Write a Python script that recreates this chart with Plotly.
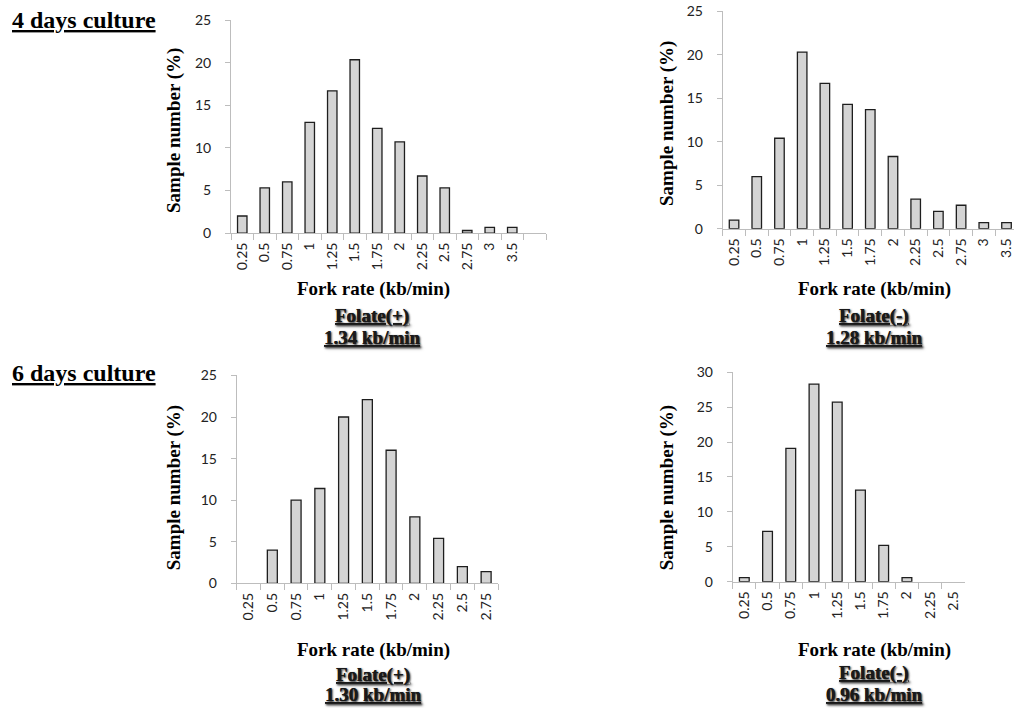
import plotly.graph_objects as go

W, H = 1014, 708

# ---------------- data ----------------
bins_4d = ["0.25", "0.5", "0.75", "1", "1.25", "1.5", "1.75", "2", "2.25", "2.5", "2.75", "3", "3.5"]
vals_4d_plus = [2.0, 5.3, 6.0, 13.0, 16.7, 20.35, 12.3, 10.7, 6.7, 5.3, 0.3, 0.67, 0.67]
vals_4d_minus = [1.0, 6.0, 10.4, 20.3, 16.7, 14.3, 13.7, 8.3, 3.4, 2.0, 2.7, 0.7, 0.7]

bins_6d_plus = ["0.25", "0.5", "0.75", "1", "1.25", "1.5", "1.75", "2", "2.25", "2.5", "2.75"]
vals_6d_plus = [0, 4.0, 10.0, 11.4, 20.0, 22.1, 16.0, 8.0, 5.4, 2.0, 1.4]

bins_6d_minus = ["0.25", "0.5", "0.75", "1", "1.25", "1.5", "1.75", "2", "2.25", "2.5"]
vals_6d_minus = [0.6, 7.2, 19.1, 28.3, 25.7, 13.1, 5.2, 0.6, 0, 0]

section_titles = ["4 days culture", "6 days culture"]
x_title = "Fork rate (kb/min)"
y_title = "Sample number (%)"
conditions = ["Folate(+)", "Folate(-)", "Folate(+)", "Folate(-)"]
mean_rates = ["1.34 kb/min", "1.28 kb/min", "1.30 kb/min", "0.96 kb/min"]

# empirical vertical correction of the capture
Y_OFF, Y_SCALE = 7.8, 0.978


def px(x):
    return x / W


def py(y):
    return 1 - ((y - Y_OFF) / Y_SCALE) / H


# panel geometry (pixels)
panels = [
    dict(x0=231, x1=546, yz=232.3, yt=19, ymax=25, cats=bins_4d + [" "], rend=13.5,
         bins=bins_4d, vals=vals_4d_plus),
    dict(x0=722.7, x1=1014, yz=228, yt=10, ymax=25, cats=bins_4d, rend=12.33,
         bins=bins_4d, vals=vals_4d_minus),
    dict(x0=236.7, x1=498, yz=583.3, yt=375, ymax=25, cats=bins_6d_plus, rend=10.5,
         bins=bins_6d_plus, vals=vals_6d_plus),
    dict(x0=732.7, x1=965, yz=581.7, yt=371.7, ymax=30, cats=bins_6d_minus, rend=9.5,
         bins=bins_6d_minus, vals=vals_6d_minus),
]

fig = go.Figure()
axis_grey = "#bdbdbd"
tick_font = dict(family="Lato, Open Sans, sans-serif", size=14, color="#222222")
serif = "Liberation Serif, Times New Roman, serif"

for i, p in enumerate(panels):
    n = i + 1
    xa = "x" if n == 1 else f"x{n}"
    ya = "y" if n == 1 else f"y{n}"
    fig.add_trace(go.Bar(
        x=p["bins"], y=[v if v > 0 else None for v in p["vals"]],
        xaxis=xa, yaxis=ya,
        marker=dict(color="#d4d4d4", line=dict(color="#1e1e1e", width=1.3)),
        showlegend=False, hoverinfo="x+y",
    ))
    xkey = "xaxis" if n == 1 else f"xaxis{n}"
    ykey = "yaxis" if n == 1 else f"yaxis{n}"
    fig.layout[xkey] = dict(
        domain=[px(p["x0"]), px(p["x1"])], anchor=ya,
        type="category", categoryorder="array", categoryarray=p["cats"],
        range=[-0.5, p["rend"]],
        showline=True, linecolor=axis_grey, linewidth=1,
        ticks="outside", ticklen=6, tickcolor=axis_grey, tickwidth=1,
        tickson="boundaries", tickangle=-90, tickfont=tick_font,
        ticklabelstandoff=3,
        showgrid=False, zeroline=False, fixedrange=True,
    )
    fig.layout[ykey] = dict(
        domain=[py(p["yz"]), py(p["yt"])], anchor=xa,
        range=[0, p["ymax"]], dtick=5, tick0=0,
        showline=True, linecolor=axis_grey, linewidth=1,
        ticks="outside", ticklen=5, tickcolor=axis_grey, tickwidth=1,
        tickfont=tick_font, ticklabelstandoff=11,
        showgrid=False, zeroline=False, fixedrange=True,
    )

annotations = []
for txt, yc in zip(section_titles, [19, 373]):
    annotations.append(dict(
        text=f"<u>{txt}</u>", x=px(10), y=py(yc), xref="paper", yref="paper",
        xanchor="left", yanchor="middle", showarrow=False,
        font=dict(family=serif, size=24, color="#000000", weight="bold"),
    ))

ytitle_pos = [(174, 130), (667, 123), (174, 488), (667, 488)]
xtitle_pos = [(373, 288), (874, 288), (373, 650), (874, 650)]
cond_pos = [(372, 315), (874, 315), (373, 675), (874, 673)]
rate_pos = [(372, 337), (874, 337), (373, 695), (874, 695)]

for i in range(4):
    annotations.append(dict(
        text=y_title, x=px(ytitle_pos[i][0]), y=py(ytitle_pos[i][1]),
        xref="paper", yref="paper", xanchor="center", yanchor="middle",
        textangle=-90, showarrow=False,
        font=dict(family=serif, size=19, color="#000000", weight="bold"),
    ))
    annotations.append(dict(
        text=x_title, x=px(xtitle_pos[i][0]), y=py(xtitle_pos[i][1]),
        xref="paper", yref="paper", xanchor="center", yanchor="middle",
        showarrow=False,
        font=dict(family=serif, size=19, color="#000000", weight="bold"),
    ))
    for txt, pos in [(conditions[i], cond_pos[i]), (mean_rates[i], rate_pos[i])]:
        annotations.append(dict(
            text=f"<u>{txt}</u>", x=px(pos[0]), y=py(pos[1]),
            xref="paper", yref="paper", xanchor="center", yanchor="middle",
            showarrow=False,
            font=dict(family=serif, size=19, color="#1a1a1a", weight="bold",
                      shadow="1px 1px 2px rgba(0,0,0,0.55)"),
        ))

fig.update_layout(
    width=W, height=H, margin=dict(l=0, r=0, t=0, b=0),
    paper_bgcolor="white", plot_bgcolor="white",
    bargap=0.58, annotations=annotations,
)

post = (
    "document.documentElement.style.margin='0';"
    "document.documentElement.style.overflow='hidden';"
    "document.body.style.margin='0';"
    "document.body.style.overflow='hidden';"
    "var gd=document.getElementsByClassName('plotly-graph-div')[0];"
    "gd.style.position='fixed';gd.style.top='0px';gd.style.left='0px';"
)

fig.write_html("out.html", config={"displayModeBar": False}, post_script=post)
